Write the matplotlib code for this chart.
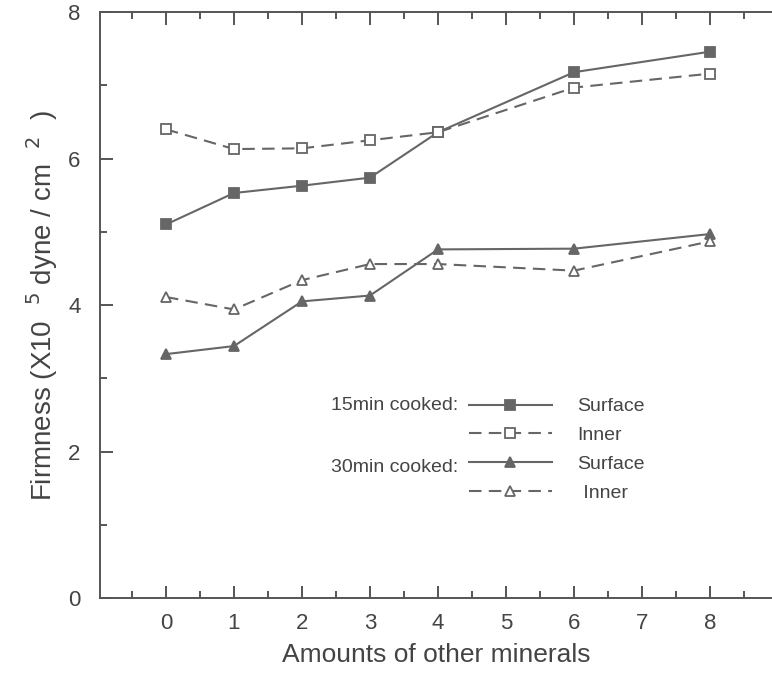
import numpy as np
import matplotlib
matplotlib.use("Agg")
import matplotlib.pyplot as plt
from matplotlib.ticker import MultipleLocator

plt.rcParams['font.family'] = ['Liberation Sans', 'DejaVu Sans']

# data
amounts = [0, 1, 2, 3, 4, 6, 8]
surface_15 = [5.10, 5.53, 5.63, 5.74, 6.36, 7.18, 7.46]
inner_15 = [6.40, 6.13, 6.14, 6.25, 6.36, 6.97, 7.16]
surface_30 = [3.33, 3.44, 4.05, 4.13, 4.76, 4.77, 4.97]
inner_30 = [4.11, 3.94, 4.34, 4.56, 4.56, 4.47, 4.87]
x_ticks = [0, 1, 2, 3, 4, 5, 6, 7, 8]
y_ticks = [0, 2, 4, 6, 8]

ink = '#666666'
txt = '#444444'

fig = plt.figure(figsize=(7.72, 6.74), dpi=100)
ax = fig.add_axes([0.1295, 0.1128, 0.8705, 0.8692])

line_kw = dict(color=ink, lw=1.5, ms=7, mew=1.3)
dash = (0, (6, 3.5))
h1, = ax.plot(amounts, surface_15, '-', marker='s', mfc=ink, mec=ink, **line_kw)
h2, = ax.plot(amounts, inner_15, linestyle=dash, marker='s', mfc='white', mec=ink, **line_kw)
h3, = ax.plot(amounts, surface_30, '-', marker='^', mfc=ink, mec=ink, **line_kw)
h4, = ax.plot(amounts, inner_30, linestyle=dash, marker='^', mfc='white', mec=ink, **line_kw)

ax.set_xlim(-0.97, 8.91)
ax.set_ylim(0, 8)
ax.set_xticks(x_ticks)
ax.set_yticks(y_ticks)
ax.xaxis.set_minor_locator(MultipleLocator(0.5))
ax.yaxis.set_minor_locator(MultipleLocator(1))
ax.tick_params(which='both', direction='in', top=True, right=False,
               color='#555555', width=1.4, labelsize=16, labelcolor=txt)
ax.tick_params(which='major', length=9)
ax.tick_params(which='minor', length=5)
ax.tick_params(axis='x', pad=11)
ax.tick_params(axis='y', pad=14)
for s in ['left', 'bottom', 'top']:
    ax.spines[s].set_color('#555555')
    ax.spines[s].set_linewidth(1.4)
ax.spines['right'].set_visible(False)

ax.set_xlabel('Amounts of other minerals', fontsize=19, color=txt, labelpad=6)
ax.set_ylabel('Firmness (X10  $^{5}$ dyne / cm  $^{2}$  )', fontsize=20, color=txt, labelpad=6)

leg = ax.legend([h1, h2, h3, h4], ['Surface', 'Inner', 'Surface', ' Inner'],
                loc='upper left', bbox_to_anchor=(0.537, 0.355), frameon=False,
                numpoints=1, handlelength=4.3, handletextpad=1.3,
                labelspacing=0.58, fontsize=14, borderaxespad=0)
for t in leg.get_texts():
    t.set_color(txt)

fig.text(458 / 772, 1 - 405 / 674, '15min cooked:', ha='right', va='center', fontsize=14, color=txt)
fig.text(458 / 772, 1 - 468 / 674, '30min cooked:', ha='right', va='center', fontsize=14, color=txt)

fig.savefig('out.png', dpi=100)
